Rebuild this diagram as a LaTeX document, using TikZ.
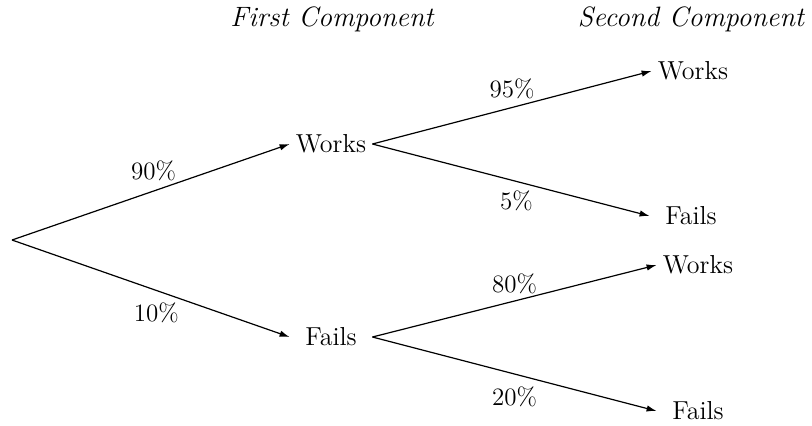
\documentclass[tikz,border=0pt]{standalone}
\usetikzlibrary{arrows.meta}

\tikzset{
  outcome/.style={inner sep=0pt,minimum width=41pt,font=\fontsize{13}{15}\selectfont},
  stage/.style={inner sep=0pt,font=\fontsize{14}{16}\selectfont\itshape},
  prob/.style={inner sep=0pt,font=\fontsize{12.5}{14}\selectfont},
  branch/.style={draw,-{Latex[length=5pt,width=3.2pt]},line width=0.6pt}
}

\begin{document}
\begin{tikzpicture}[x=0.5pt,y=-0.5pt]
\useasboundingbox (0,0) rectangle (812,425);
% column headings
\node[stage] (first) at (332,19) {First Component};
\node[stage] (second) at (691,19) {Second Component};
% outcomes
\coordinate (start) at (12,240);
\node[outcome] (w1) at (331,144) {Works};
\node[outcome] (f1) at (331,337) {Fails};
\node[outcome] (ww) at (693,71) {Works};
\node[outcome] (wf) at (691,216) {Fails};
\node[outcome] (fw) at (698,265) {Works};
\node[outcome] (ff) at (698,411) {Fails};
% branches
\path[branch] (start) -- node[prob,pos=0.51,above=5pt]{90\%} (w1.west);
\path[branch] (start) -- node[prob,pos=0.52,below=6pt]{10\%} (f1.west);
\path[branch] (w1.east) -- node[prob,pos=0.5,above=3.8pt]{95\%} (ww.west);
\path[branch] (w1.east) -- node[prob,pos=0.52,below=4.5pt]{5\%} (wf.west);
\path[branch] (f1.east) -- node[prob,pos=0.5,above=3.5pt]{80\%} (fw.west);
\path[branch] (f1.east) -- node[prob,pos=0.5,below=6pt]{20\%} (ff.west);
\end{tikzpicture}
\end{document}
